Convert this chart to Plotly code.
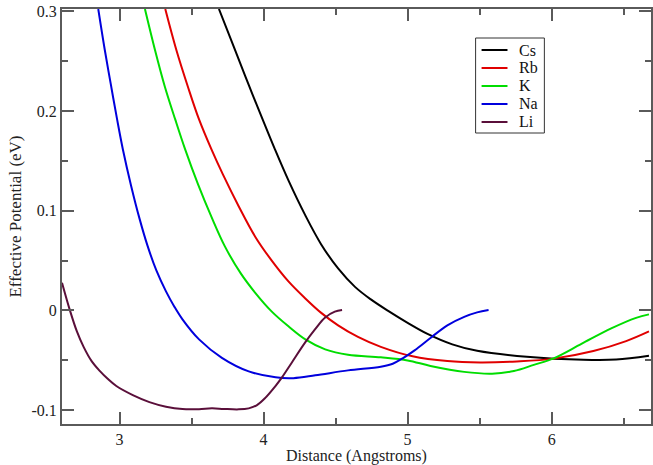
import plotly.graph_objects as go

# ---- data ----
cs_x = [3.6897, 3.80, 3.8966, 3.9931, 4.0759, 4.1724, 4.2897, 4.40, 4.5172, 4.6345, 4.7448, 4.8621, 5.0, 5.1379, 5.3103, 5.4828, 5.8276, 6.2207, 6.4483, 6.6759]
cs_y = [0.3024, 0.2618, 0.2262, 0.1916, 0.1625, 0.1304, 0.0953, 0.0662, 0.0421, 0.0236, 0.0110, -0.0003, -0.0125, -0.0236, -0.0341, -0.0406, -0.0466, -0.0496, -0.0494, -0.0456]

rb_x = [3.3172, 3.3931, 3.4759, 3.5517, 3.6379, 3.7172, 3.8276, 3.9448, 4.0552, 4.1724, 4.2897, 4.40, 4.5172, 4.6552, 4.8138, 5.0345, 5.2759, 5.5034, 5.7586, 6.0138, 6.2897, 6.5172, 6.6759]
rb_y = [0.3024, 0.2618, 0.2237, 0.1916, 0.1615, 0.1364, 0.1043, 0.0732, 0.0502, 0.0291, 0.0120, -0.0025, -0.0150, -0.0266, -0.0366, -0.0461, -0.0509, -0.0522, -0.0512, -0.0484, -0.0408, -0.0308, -0.0211]

k_x = [3.1759, 3.2448, 3.3138, 3.3862, 3.4552, 3.5448, 3.6393, 3.7310, 3.8414, 3.9448, 4.0552, 4.1724, 4.2897, 4.4276, 4.5862, 4.8138, 5.0, 5.1586, 5.3931, 5.5862, 5.7379, 5.8759, 6.0138, 6.2069, 6.4138, 6.5862, 6.6759]
k_y = [0.3024, 0.2618, 0.2247, 0.1916, 0.1615, 0.1264, 0.0933, 0.0642, 0.0371, 0.0171, -0.0010, -0.0160, -0.0291, -0.0391, -0.0446, -0.0471, -0.0502, -0.0557, -0.0617, -0.0635, -0.0609, -0.0547, -0.0481, -0.0336, -0.0181, -0.0075, -0.0040]

na_x = [2.8517, 2.8966, 2.9379, 2.9814, 3.0228, 3.0793, 3.1379, 3.1931, 3.2552, 3.3221, 3.3793, 3.4366, 3.5517, 3.7103, 3.8966, 4.0828, 4.2069, 4.3586, 4.5862, 4.8138, 4.8966, 4.9655, 5.0483, 5.1607, 5.2759, 5.3931, 5.4828, 5.5621]
na_y = [0.3024, 0.2618, 0.2277, 0.1926, 0.1615, 0.1254, 0.0923, 0.0652, 0.0401, 0.0191, 0.0040, -0.0090, -0.0291, -0.0476, -0.0612, -0.0672, -0.0680, -0.0652, -0.0602, -0.0565, -0.0535, -0.0481, -0.0401, -0.0274, -0.0150, -0.0065, -0.0020, 0.0003]

li_x = [2.60, 2.6552, 2.7034, 2.7517, 2.8069, 2.8620, 2.9172, 2.9772, 3.0917, 3.2069, 3.3221, 3.4366, 3.5517, 3.6414, 3.7241, 3.8276, 3.8966, 3.9517, 4.0117, 4.0807, 4.1262, 4.1952, 4.2876, 4.3566, 4.4255, 4.4945, 4.5448]
li_y = [0.0278, 0.0, -0.0211, -0.0371, -0.0512, -0.0607, -0.0687, -0.0759, -0.0850, -0.0920, -0.0966, -0.0990, -0.0991, -0.0983, -0.0989, -0.0993, -0.0983, -0.0953, -0.0878, -0.0762, -0.0675, -0.0525, -0.0324, -0.0191, -0.0073, -0.0013, 0.0003]

names = ["Cs", "Rb", "K", "Na", "Li"]
colors = ["#000000", "#e00000", "#00dd00", "#0000dd", "#5a0f3a"]
xs_all = [cs_x, rb_x, k_x, na_x, li_x]
ys_all = [cs_y, rb_y, k_y, na_y, li_y]

x_tickvals = [3, 4, 5, 6]
x_ticktext = ["3", "4", "5", "6"]
y_tickvals = [-0.1, 0, 0.1, 0.2, 0.3]
y_ticktext = ["-0.1", "0", "0.1", "0.2", "0.3"]

FONT = "Liberation Serif, Times New Roman, serif"
AX = "#5a5a5a"
W, H = 653, 465
ML, MR, MT, MB = 62, 0, 9, 41
PW, PH = W - ML - MR, H - MT - MB


def px2paper(px, py):
    return (px - ML) / PW, (H - MB - py) / PH


fig = go.Figure()
for name, xs, ys, col in zip(names, xs_all, ys_all, colors):
    fig.add_trace(go.Scatter(x=xs, y=ys, mode="lines", name=name, showlegend=False,
                             line=dict(color=col, width=2, shape="spline", smoothing=1.0)))

# legend key (framed box, sample lines and labels)
bx0, by0 = px2paper(477, 133)
bx1, by1 = px2paper(546, 38)
shapes = [dict(type="rect", xref="paper", yref="paper", x0=bx0, x1=bx1, y0=by0, y1=by1,
               line=dict(color="#333333", width=1), fillcolor="white", layer="above")]
annotations = []
for i, (name, col) in enumerate(zip(names, colors)):
    cy = 50 + 18 * i
    lx0, ly = px2paper(483, cy)
    lx1, _ = px2paper(509, cy)
    tx, _ = px2paper(519, cy)
    shapes.append(dict(type="line", xref="paper", yref="paper", x0=lx0, x1=lx1, y0=ly, y1=ly,
                       line=dict(color=col, width=2), layer="above"))
    annotations.append(dict(xref="paper", yref="paper", x=tx, y=ly, text=name, showarrow=False,
                            xanchor="left", yanchor="middle",
                            font=dict(family=FONT, size=16, color="#111111")))

axis_common = dict(
    showline=True, linewidth=2, linecolor=AX, mirror="allticks",
    ticks="inside", ticklen=12, tickwidth=2, tickcolor=AX,
    showgrid=False, zeroline=False,
    tickfont=dict(family=FONT, size=16, color="#222222"),
)

fig.update_layout(
    width=W, height=H,
    margin=dict(l=ML, r=MR, t=MT, b=MB),
    paper_bgcolor="white", plot_bgcolor="white",
    font=dict(family=FONT, size=16, color="#222222"),
    showlegend=False,
    shapes=shapes, annotations=annotations,
)
fig.update_xaxes(range=[2.6, 6.69], tickvals=x_tickvals, ticktext=x_ticktext,
                 minor=dict(dtick=0.5, tick0=0, ticks="inside", ticklen=6, tickwidth=2, tickcolor=AX),
                 title=dict(text="Distance (Angstroms)", font=dict(family=FONT, size=16, color="#222222"), standoff=2),
                 **axis_common)
fig.update_yaxes(range=[-0.114, 0.3024], tickvals=y_tickvals, ticktext=y_ticktext,
                 minor=dict(dtick=0.05, tick0=0, ticks="inside", ticklen=6, tickwidth=2, tickcolor=AX),
                 title=dict(text="Effective Potential (eV)", font=dict(family=FONT, size=17, color="#222222"), standoff=6),
                 **axis_common)

fig.write_html("out.html")
